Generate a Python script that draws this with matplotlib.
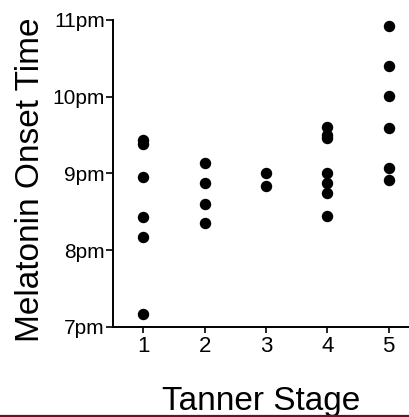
import matplotlib
matplotlib.use('Agg')
import matplotlib.pyplot as plt
from matplotlib.lines import Line2D

# Dados: horario de inicio da melatonina (horas, 7 = 7pm) por estagio de Tanner
estagio_1 = [9.43, 9.38, 8.95, 8.43, 8.17, 7.17]
estagio_2 = [9.13, 8.87, 8.60, 8.35]
estagio_3 = [9.01, 8.83]
estagio_4 = [9.61, 9.50, 9.46, 9.00, 8.88, 8.74, 8.45]
estagio_5 = [10.92, 10.40, 10.01, 9.59, 9.07, 8.91]
estagios = [1, 2, 3, 4, 5]
ytick_vals = [7, 8, 9, 10, 11]
ytick_labels = ['7pm', '8pm', '9pm', '10pm', '11pm']

plt.rcParams['font.family'] = ['Liberation Sans', 'DejaVu Sans']

fig = plt.figure(figsize=(4.09, 4.17), dpi=100)
ax = fig.add_axes([113/409, 1 - 326.7/417, 1 - 113/409, (326.7 - 20)/417])

for st, vals in zip(estagios, [estagio_1, estagio_2, estagio_3, estagio_4, estagio_5]):
    ax.scatter([st] * len(vals), vals, s=52, color='black', zorder=3, clip_on=False)

ax.set_xlim(0.506, 5.331)
ax.set_ylim(7, 11)
ax.set_xticks(estagios)
ax.set_yticks(ytick_vals)
ax.set_yticklabels(ytick_labels)
ax.tick_params(axis='y', length=5, width=1.2, pad=0.8, labelsize=15)
ax.tick_params(axis='x', length=4.5, width=1.2, pad=2.5, labelsize=16)

for s in ['top', 'right']:
    ax.spines[s].set_visible(False)
for s in ['left', 'bottom']:
    ax.spines[s].set_linewidth(1.4)

ax.set_xlabel('Tanner Stage', fontsize=24, va='baseline')
ax.xaxis.set_label_coords(0.5, -0.2716)
ax.set_ylabel('Melatonin Onset Time', fontsize=24, va='baseline')
ax.yaxis.set_label_coords(-0.25, 0.478)

# linha vermelho-escura no rodape
fig.add_artist(Line2D([0, 1], [0.0035, 0.0035], color='#7a0a25', linewidth=1.6,
                      transform=fig.transFigure))

fig.savefig('out.png', dpi=100)
